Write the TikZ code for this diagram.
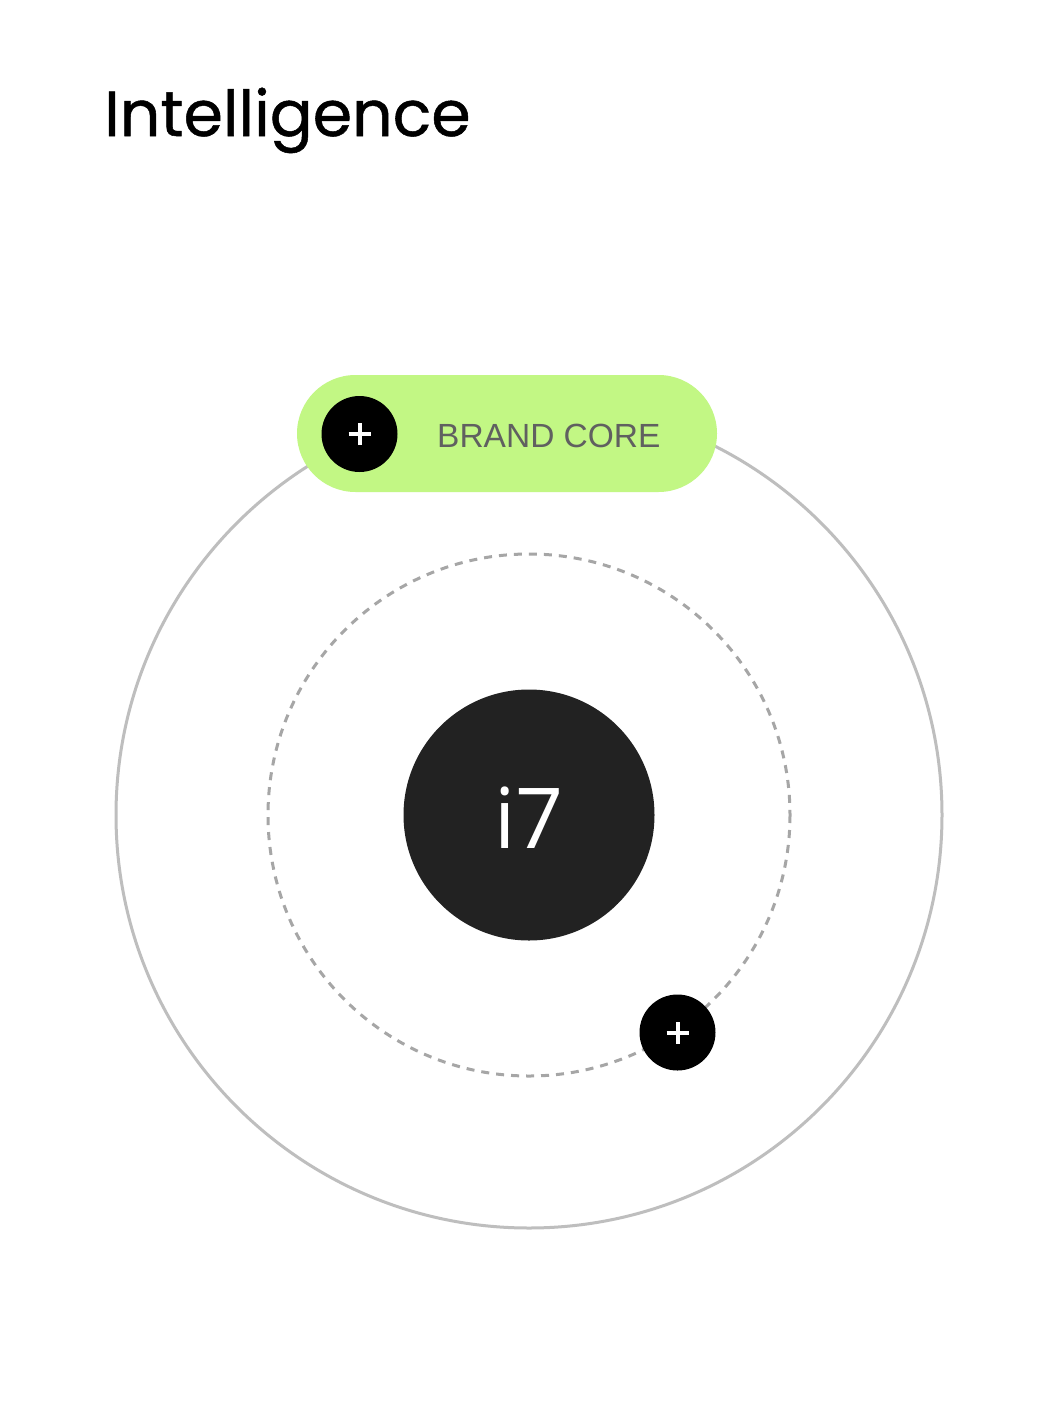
\documentclass[tikz,border=0pt]{standalone}
\usepackage{fontspec}
\setmainfont{Poppins}
\newfontfamily\titlefont{Poppins}[FakeBold=0.8]
\newfontfamily\labelfont{Liberation Sans}
\newfontfamily\corefont{Open Sans}
\definecolor{ringgray}{HTML}{BEBEBE}
\definecolor{dashgray}{HTML}{A6A6A6}
\definecolor{coredark}{HTML}{222222}
\definecolor{pillgreen}{HTML}{C2F784}
\definecolor{textgray}{HTML}{606060}
\tikzset{
    plusdot/.style={circle, fill=black, minimum size=76pt, inner sep=0pt},
    plussign/.style={white, line width=4pt}
}
\begin{document}
\begin{tikzpicture}[x=1pt,y=-1pt]
    % Page frame
    \useasboundingbox[fill=white] (0,0) rectangle (1059,1413);

    % Title
    \node[anchor=base west, inner sep=0pt, font=\titlefont\fontsize{63.5}{70}\selectfont] (title) at (104,136) {Intelligence};

    % Rings
    \coordinate (centre) at (529,815);
    \draw[ringgray, line width=3pt] (centre) circle (413);
    \draw[dashgray, line width=3pt, dash pattern=on 8pt off 7pt] (centre) circle (261);

    % Core
    \node[circle, fill=coredark, minimum size=251pt, inner sep=0pt] (core) at (centre) {};
    \node[white, font=\corefont\fontsize{84}{90}\selectfont, anchor=base, inner sep=0pt] (corelabel) at (529,848) {i7};

    % Brand core pill
    \node[rounded corners=58.5pt, fill=pillgreen, minimum width=420pt, minimum height=117pt, inner sep=0pt] (pill) at (507,433.5) {};
    \node[textgray, font=\labelfont\fontsize{33.5}{40}\selectfont, anchor=base west, inner sep=0pt] (pilllabel) at (437,447) {BRAND CORE};

    % Plus buttons
    \node[plusdot] (plusa) at (359.5,434) {};
    \node[plusdot] (plusb) at (677.5,1032.5) {};
    \foreach \p in {plusa,plusb} {
        \draw[plussign] ([xshift=-11pt]\p.center) -- ([xshift=11pt]\p.center);
        \draw[plussign] ([yshift=-11pt]\p.center) -- ([yshift=11pt]\p.center);
    }
\end{tikzpicture}
\end{document}
